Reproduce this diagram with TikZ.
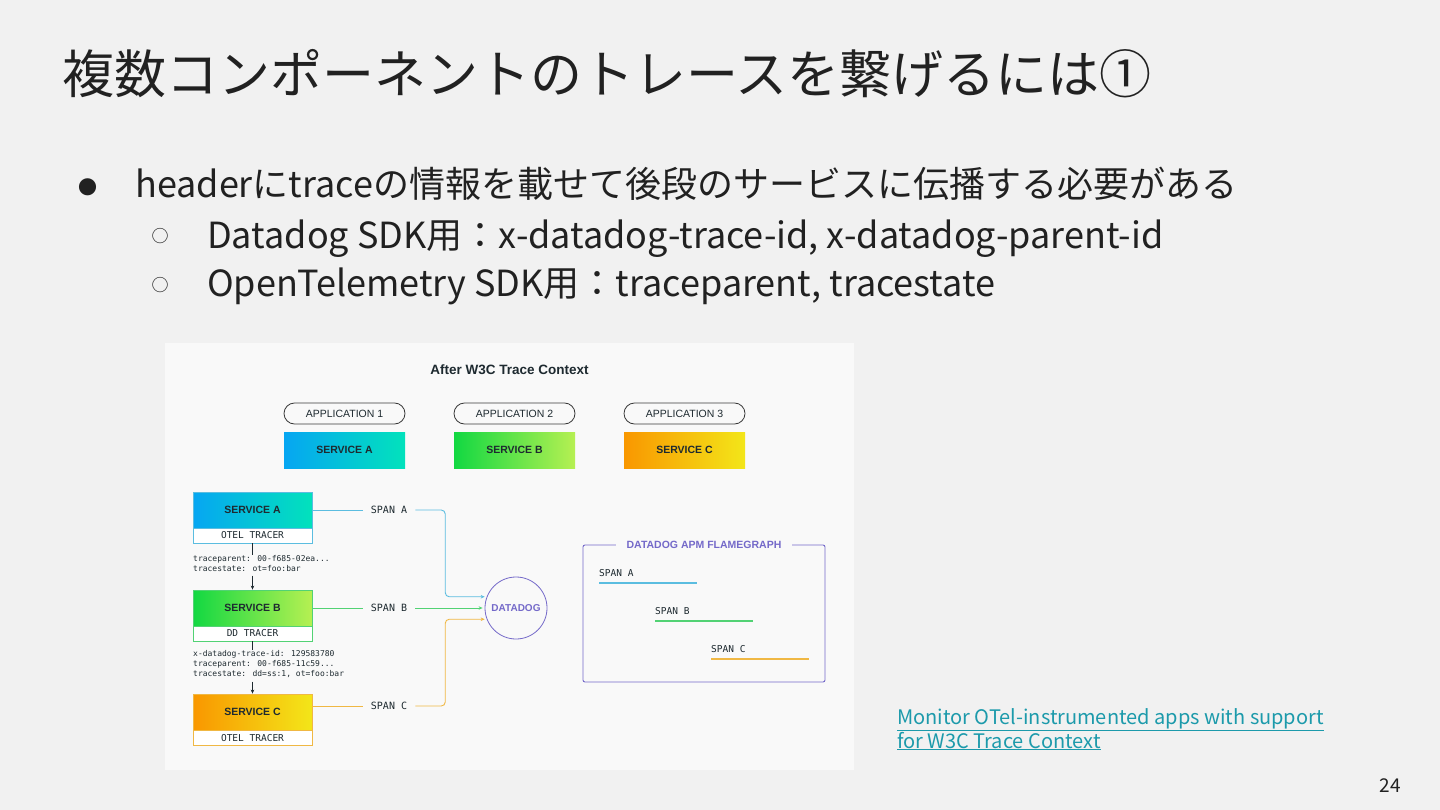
\documentclass[tikz,border=0pt]{standalone}
\usepackage{fontspec}
\setmainfont{Noto Sans CJK JP}
\newfontfamily\diagsans{Liberation Sans}
\newfontfamily\diagmono{DejaVu Sans Mono}
\usetikzlibrary{arrows.meta}
\definecolor{slidebg}{HTML}{F1F1F1}
\definecolor{figbg}{HTML}{F9F9F9}
\definecolor{slidetext}{HTML}{212121}
\definecolor{darktext}{HTML}{1E2A30}
\definecolor{pillgray}{HTML}{3A3A3A}
\definecolor{blueA}{HTML}{06A6F2}
\definecolor{tealA}{HTML}{02E2BC}
\definecolor{greenB}{HTML}{12D842}
\definecolor{limeB}{HTML}{B6F052}
\definecolor{orangeC}{HTML}{F99700}
\definecolor{yellowC}{HTML}{F3E619}
\definecolor{lineblue}{HTML}{5BBDE0}
\definecolor{linegreen}{HTML}{52D274}
\definecolor{lineorange}{HTML}{F0B844}
\definecolor{ddpurple}{HTML}{7469C9}
\definecolor{linkteal}{HTML}{1C9AAB}
\tikzset{
  >={Stealth[length=4pt,width=3.5pt]},
  pill/.style={draw=pillgray, line width=0.8pt, rounded corners=10.5pt, minimum width=121pt, minimum height=21pt, inner sep=0pt, text=darktext, font=\diagsans\fontsize{10.5}{12}\selectfont},
  topsvc/.style={minimum width=121pt, minimum height=36pt, inner sep=0pt, text=darktext, font=\diagsans\bfseries\fontsize{10.5}{12}\selectfont},
  svcbox/.style={minimum width=119pt, minimum height=36pt, inner sep=0pt, line width=0.8pt, text=darktext, font=\diagsans\bfseries\fontsize{10.5}{12}\selectfont},
  tracer/.style={fill=white, minimum width=119pt, minimum height=15pt, inner sep=0pt, line width=0.8pt, text=darktext, font=\diagmono\fontsize{9.5}{11}\selectfont},
  hdrtext/.style={anchor=north west, align=left, inner sep=0pt, text=darktext, font=\diagmono\fontsize{8}{10}\selectfont},
  spanlbl/.style={inner xsep=8pt, inner ysep=2pt, text=darktext, font=\diagmono\fontsize{10}{12}\selectfont},
  spanA/.style={draw=lineblue, line width=0.9pt, rounded corners=4pt},
  spanB/.style={draw=linegreen, line width=0.9pt, rounded corners=4pt},
  spanC/.style={draw=lineorange, line width=0.9pt, rounded corners=4pt},
  flamelbl/.style={anchor=base west, inner sep=0pt, text=darktext, font=\diagmono\fontsize{9.5}{11}\selectfont},
}
\begin{document}
\begin{tikzpicture}[x=1pt, y=-1pt]
\fill[slidebg] (0,0) rectangle (1440,810);
\useasboundingbox (0,0) rectangle (1440,810);
\fill[figbg] (165,343) rectangle (854,770);

\node[anchor=base west, inner sep=0pt, text=slidetext, font=\fontsize{52}{60}\selectfont] (title) at (62,94) {複数コンポーネントのトレースを繋げるには①};
\node[inner sep=0pt, text=slidetext, font=\fontsize{19}{22}\selectfont] (dot1) at (88,187) {●};
\node[anchor=base west, inner sep=0pt, text=slidetext, font=\fontsize{36}{42}\selectfont] (line1) at (135,198) {headerにtraceの情報を載せて後段のサービスに伝播する必要がある};
\node[inner sep=0pt, text=slidetext, font=\fontsize{17}{20}\selectfont] (dot2) at (160,236) {○};
\node[anchor=base west, inner sep=0pt, text=slidetext, font=\fontsize{36}{42}\selectfont] (line2) at (207,249) {Datadog SDK用：x-datadog-trace-id, x-datadog-parent-id};
\node[inner sep=0pt, text=slidetext, font=\fontsize{17}{20}\selectfont] (dot3) at (160,285) {○};
\node[anchor=base west, inner sep=0pt, text=slidetext, font=\fontsize{36}{42}\selectfont] (line3) at (207,297) {OpenTelemetry SDK用：traceparent, tracestate};

\node[text=darktext, font=\diagsans\bfseries\fontsize{13.5}{16}\selectfont] (figtitle) at (509.5,370) {After W3C Trace Context};

\node[pill] (app1) at (344.5,413.5) {APPLICATION 1};
\node[pill] (app2) at (514.5,413.5) {APPLICATION 2};
\node[pill] (app3) at (684.5,413.5) {APPLICATION 3};
\node[topsvc, left color=blueA, right color=tealA] (topA) at (344.5,450) {SERVICE A};
\node[topsvc, left color=greenB, right color=limeB] (topB) at (514.5,450) {SERVICE B};
\node[topsvc, left color=orangeC, right color=yellowC] (topC) at (684.5,450) {SERVICE C};

\node[svcbox, draw=lineblue, left color=blueA, right color=tealA] (svcA) at (252.5,510) {SERVICE A};
\node[tracer, draw=lineblue] (trA) at (252.5,535.5) {OTEL TRACER};
\node[svcbox, draw=linegreen, left color=greenB, right color=limeB] (svcB) at (252.5,608) {SERVICE B};
\node[tracer, draw=linegreen] (trB) at (252.5,633.5) {DD TRACER};
\node[svcbox, draw=lineorange, left color=orangeC, right color=yellowC] (svcC) at (252.5,712) {SERVICE C};
\node[tracer, draw=lineorange] (trC) at (252.5,738) {OTEL TRACER};

\node[hdrtext] (hdrA) at (193,555) {traceparent: 00-f685-02ea...\\tracestate: ot=foo:bar};
\node[hdrtext] (hdrB) at (193,650) {x-datadog-trace-id: 129583780\\traceparent: 00-f685-11c59...\\tracestate: dd=ss:1, ot=foo:bar};

\draw[darktext, line width=0.6pt] (trA.south) -- (trA.south |- hdrA.north);
\draw[darktext, line width=0.6pt, ->] (trA.south |- hdrA.south) ++(0,4) -- (svcB.north);
\draw[darktext, line width=0.6pt] (trB.south) -- (trB.south |- hdrB.north);
\draw[darktext, line width=0.6pt, ->] (trB.south |- hdrB.south) ++(0,4) -- (svcC.north);

\node[circle, draw=ddpurple, line width=0.8pt, minimum size=62pt, inner sep=0pt, text=ddpurple, font=\diagsans\bfseries\fontsize{10}{12}\selectfont] (dd) at (516,608) {DATADOG};

\node[spanlbl] (lblA) at (389,510) {SPAN A};
\node[spanlbl] (lblB) at (389,608) {SPAN B};
\node[spanlbl] (lblC) at (389,706) {SPAN C};

\draw[spanA] (svcA.east) -- (lblA.west);
\draw[spanA, ->, shorten >=2pt] (lblA.east) -- ++(30,0) |- (dd.159);
\draw[spanB] (svcB.east) -- (lblB.west);
\draw[spanB, ->, shorten >=2pt] (lblB.east) -- (dd.west);
\draw[spanC] (svcC.east |- lblC) -- (lblC.west);
\draw[spanC, ->, shorten >=2pt] (lblC.east) -- ++(30,0) |- (dd.201);

\node[draw=ddpurple, line width=0.9pt, rounded corners=2pt, minimum width=242pt, minimum height=137pt, inner sep=0pt] (flame) at (704,613.5) {};
\node[fill=figbg, inner xsep=11pt, inner ysep=2pt, text=ddpurple, font=\diagsans\bfseries\fontsize{10.5}{12}\selectfont] (flametitle) at (flame.north) {DATADOG APM FLAMEGRAPH};

\node[flamelbl] (fsA) at (599,576) {SPAN A};
\node[flamelbl] (fsB) at (655,614) {SPAN B};
\node[flamelbl] (fsC) at (711,652) {SPAN C};
\draw[lineblue, line width=1.2pt] (599,583) -- (697,583);
\draw[linegreen, line width=1.2pt] (655,621) -- (753,621);
\draw[lineorange, line width=1.2pt] (711,659) -- (809,659);

\node[anchor=base west, inner sep=0pt, align=left, text=linkteal, font=\fontsize{20}{24}\selectfont] (link) at (897,748) {\underline{Monitor OTel-instrumented apps with support}\\\underline{for W3C Trace Context}};
\node[anchor=base east, inner sep=0pt, text=slidetext, font=\fontsize{19}{22}\selectfont] (pageno) at (1401,792) {24};
\end{tikzpicture}
\end{document}
